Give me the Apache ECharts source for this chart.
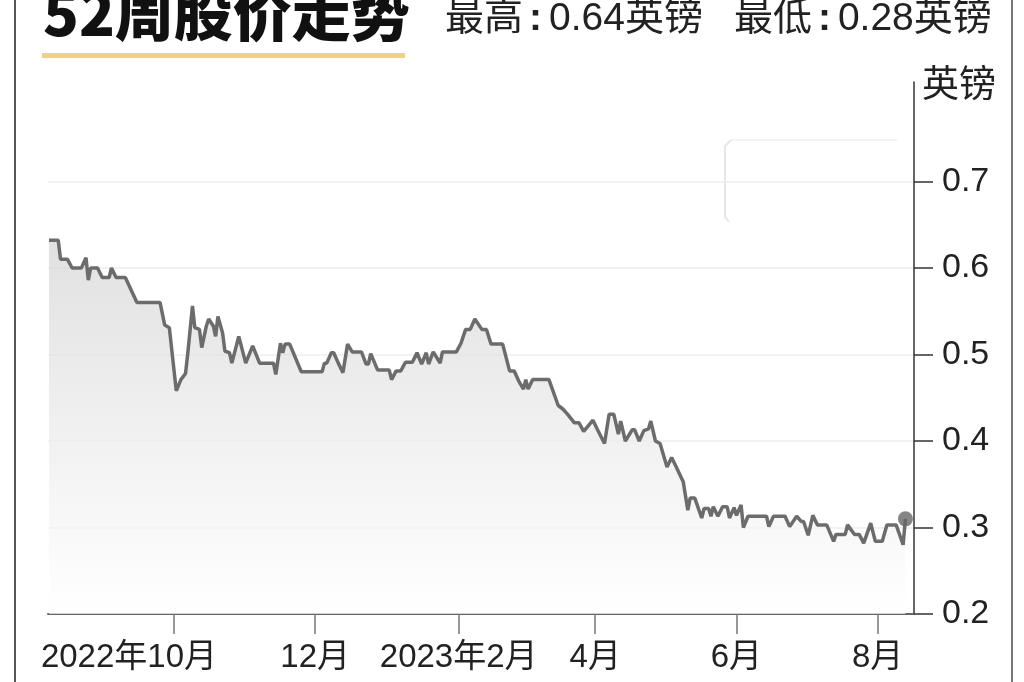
<!DOCTYPE html>
<html><head><meta charset="utf-8">
<script src="https://cdn.jsdelivr.net/npm/echarts@6/dist/echarts.min.js"></script>
<style>html,body{margin:0;padding:0;background:#fff}#c{width:1024px;height:682px}</style>
</head><body><div id="c"></div>
<script>
const dates = [
'2022-08-08','2022-08-09','2022-08-12','2022-08-13','2022-08-16','2022-08-18','2022-08-22','2022-08-24','2022-08-25','2022-08-26','2022-08-29','2022-08-31','2022-09-03','2022-09-04','2022-09-06','2022-09-10','2022-09-15','2022-09-25','2022-09-27','2022-09-29',
'2022-10-02','2022-10-04','2022-10-06','2022-10-07','2022-10-09','2022-10-10','2022-10-12','2022-10-13','2022-10-15','2022-10-16','2022-10-18','2022-10-19','2022-10-20','2022-10-22','2022-10-23','2022-10-25','2022-10-26','2022-10-29',
'2022-11-01','2022-11-04','2022-11-07','2022-11-13','2022-11-14','2022-11-16','2022-11-17','2022-11-18','2022-11-20','2022-11-25',
'2022-12-04','2022-12-05','2022-12-06','2022-12-08','2022-12-09','2022-12-11','2022-12-13','2022-12-15','2022-12-17','2022-12-21','2022-12-23','2022-12-24','2022-12-25','2022-12-28',
'2023-01-02','2023-01-03','2023-01-05','2023-01-07','2023-01-09','2023-01-12','2023-01-14','2023-01-16','2023-01-18','2023-01-19','2023-01-21','2023-01-24','2023-01-25','2023-01-31',
'2023-02-02','2023-02-04','2023-02-06','2023-02-08','2023-02-11','2023-02-13','2023-02-15','2023-02-20','2023-02-23','2023-02-25','2023-02-27',
'2023-03-01','2023-03-02','2023-03-03','2023-03-05','2023-03-12','2023-03-16','2023-03-18','2023-03-20','2023-03-23','2023-03-25','2023-03-27','2023-03-31',
'2023-04-02','2023-04-05','2023-04-07','2023-04-09','2023-04-11','2023-04-12','2023-04-14','2023-04-17','2023-04-18','2023-04-20','2023-04-22','2023-04-24','2023-04-25','2023-04-27','2023-04-29',
'2023-05-02','2023-05-04','2023-05-06','2023-05-09','2023-05-11','2023-05-12','2023-05-14','2023-05-17','2023-05-18','2023-05-20','2023-05-21','2023-05-22','2023-05-24','2023-05-26','2023-05-28','2023-05-29','2023-05-31',
'2023-06-01','2023-06-03','2023-06-04','2023-06-06','2023-06-14','2023-06-15','2023-06-17','2023-06-22','2023-06-24','2023-06-27','2023-06-29','2023-06-30',
'2023-07-02','2023-07-04','2023-07-06','2023-07-10','2023-07-13','2023-07-14','2023-07-18','2023-07-19','2023-07-22','2023-07-24','2023-07-26','2023-07-29','2023-07-31',
'2023-08-03','2023-08-05','2023-08-09','2023-08-12','2023-08-13'
];
const prices = [
0.632,0.632,0.632,0.61,0.61,0.60,0.60,0.612,0.586,0.60,0.60,0.589,0.589,0.60,0.589,0.589,0.56,0.56,0.534,0.531,
0.458,0.471,0.478,0.502,0.556,0.531,0.529,0.508,0.533,0.541,0.533,0.521,0.544,0.525,0.504,0.502,0.49,0.521,
0.49,0.51,0.49,0.49,0.477,0.513,0.502,0.512,0.512,0.48,
0.48,0.49,0.49,0.502,0.502,0.49,0.479,0.512,0.503,0.503,0.489,0.489,0.501,0.482,
0.482,0.471,0.481,0.481,0.491,0.491,0.502,0.489,0.502,0.489,0.503,0.49,0.503,0.503,
0.513,0.529,0.529,0.541,0.529,0.529,0.512,0.512,0.481,0.481,0.469,
0.46,0.471,0.46,0.471,0.471,0.441,0.437,0.431,0.421,0.421,0.411,0.424,
0.413,0.397,0.431,0.431,0.408,0.423,0.40,0.413,0.413,0.40,0.412,0.414,0.423,0.40,0.397,
0.37,0.381,0.37,0.353,0.32,0.334,0.334,0.311,0.322,0.322,0.313,0.324,0.313,0.324,0.324,0.311,0.323,
0.314,0.326,0.30,0.313,0.313,0.301,0.313,0.313,0.301,0.313,0.307,0.307,
0.291,0.314,0.303,0.303,0.284,0.292,0.292,0.303,0.292,0.292,0.282,0.305,0.284,
0.284,0.303,0.303,0.28,0.31
];
const tickDates = ['2022-10-01','2022-12-01','2023-02-01','2023-04-01','2023-06-01','2023-08-01'];
const tickLabels = ['2022年10月','12月','2023年2月','4月','6月','8月'];
const yTicks = [0.2,0.3,0.4,0.5,0.6,0.7];
const titleText = '52周股价走势';
const highLabel = '最高', highValue = '0.64英镑';
const lowLabel = '最低', lowValue = '0.28英镑';
const unitText = '英镑';

function ts(s){ const p=s.split('-').map(Number); return Date.UTC(p[0],p[1]-1,p[2]); }
const HOUR = 3600*1000;
const seriesData = dates.map((d,i)=>[ts(d), prices[i]]);
const tickTs = tickDates.map(ts);
const lastPoint = seriesData[seriesData.length-1];

const LATIN = "'Liberation Sans', Arial, 'Noto Sans CJK SC', sans-serif";
const subStyle = {fontFamily:LATIN, fontSize:39, lineHeight:39, fontWeight:'normal', color:'#222'};
const chart = echarts.init(document.getElementById('c'), null, {renderer:'canvas'});
chart.setOption({
  animation:false,
  backgroundColor:'#ffffff',
  title:[
    {text:titleText, left:43, top:-16, padding:0,
     textStyle:{fontFamily:"'Noto Sans CJK SC', sans-serif", fontWeight:900, fontSize:59, lineHeight:59, color:'#111'}},
    {text:'{t|'+highLabel+'}{c|:}{t|'+highValue+'}{g|}{t|'+lowLabel+'}{c|:}{t|'+lowValue+'}',
     left:445, top:0, padding:0,
     textStyle:Object.assign({}, subStyle, {rich:{
       t:Object.assign({}, subStyle),
       c:Object.assign({}, subStyle, {fontWeight:'bold', padding:[0,7,0,6]}),
       g:Object.assign({}, subStyle, {width:31})
     }})}
  ],
  grid:{left:48, right:110, top:82, bottom:68, containLabel:false},
  xAxis:{
    type:'value', scale:true,
    min: ts('2022-08-07') + 14*HOUR,
    max: ts('2023-08-16') + 17*HOUR,
    axisLine:{show:true, lineStyle:{color:'#666', width:2}},
    axisTick:{show:true, customValues:tickTs, length:20, lineStyle:{color:'#777', width:1.5}},
    axisLabel:{
      customValues:tickTs, margin:27, hideOverlap:false,
      formatter:function(v){
        const i = tickTs.indexOf(v);
        const t = i>=0 ? tickLabels[i] : '';
        return i===0 ? '{f|'+t+'}' : '{n|'+t+'}';
      },
      rich:{
        f:{fontFamily:LATIN, fontSize:33, color:'#222', padding:[0,90,0,0]},
        n:{fontFamily:LATIN, fontSize:33, color:'#222'}
      }
    },
    splitLine:{show:false}
  },
  yAxis:{
    type:'value', position:'right',
    min:0.2, max:0.815, interval:0.1,
    name:unitText, nameLocation:'end', nameGap:-5,
    nameTextStyle:{fontFamily:LATIN, fontSize:37, color:'#222', align:'left', verticalAlign:'middle', padding:[0,0,0,8]},
    axisLine:{show:true, lineStyle:{color:'#333', width:1.5}},
    axisTick:{show:true, inside:false, customValues:yTicks, length:19, lineStyle:{color:'#333', width:1.5}},
    axisLabel:{customValues:yTicks, margin:28, fontFamily:LATIN, fontSize:34, color:'#222',
      formatter:function(v){return String(Math.round(v*10)/10);}},
    splitLine:{show:true, lineStyle:{color:'#eeeeee', width:1.5}}
  },
  graphic:[
    {type:'rect', shape:{x:42, y:53, width:363, height:5}, style:{fill:'#F4D07C'}},
    {type:'line', shape:{x1:15, y1:0, x2:15, y2:682}, style:{stroke:'#555', lineWidth:2}},
    {type:'line', shape:{x1:1012, y1:0, x2:1012, y2:682}, style:{stroke:'#777', lineWidth:2}},
    {type:'polyline', shape:{points:[[897,140],[731,140]]}, style:{stroke:'#f3f3f3', lineWidth:2, fill:null}},
    {type:'polyline', shape:{points:[[731,140],[725,146],[725,217],[729,222]]}, style:{stroke:'#e6e6e6', lineWidth:2, fill:null}}
  ],
  series:[
    {type:'line', data:seriesData, symbol:'none', smooth:false,
     lineStyle:{color:'#6c6c6c', width:3.5},
     areaStyle:{color:new echarts.graphic.LinearGradient(0,0,0,1,[
       {offset:0,color:'#d4d4d4'},{offset:0.5,color:'#eaeaea'},{offset:1,color:'#ffffff'}])},
     z:3},
    {type:'scatter', data:[lastPoint], symbol:'circle', symbolSize:15,
     itemStyle:{color:'#666'}, z:4}
  ]
});
</script></body></html>
